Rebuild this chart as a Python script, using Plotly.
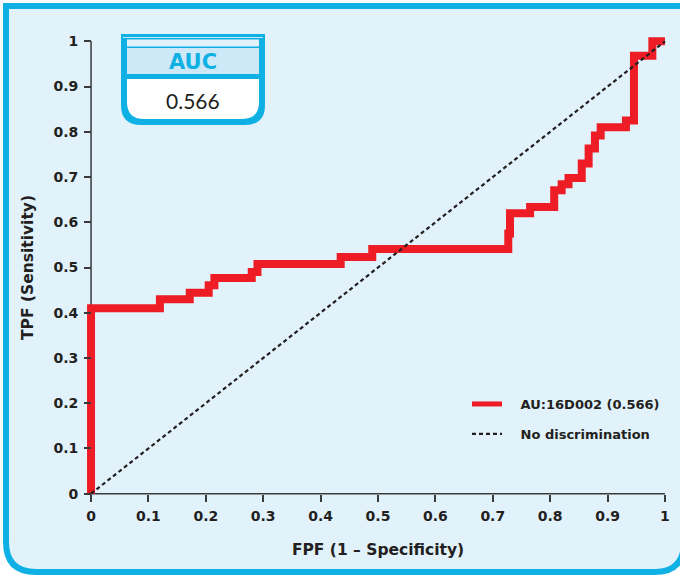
import plotly.graph_objects as go

# ---- data ----
fpf = [0, 0, 0.12, 0.172, 0.205, 0.215, 0.28, 0.29, 0.435, 0.49, 0.727, 0.73,
       0.765, 0.807, 0.82, 0.832, 0.855, 0.867, 0.878, 0.888, 0.932, 0.946, 0.978, 1.0]
tpf = [0, 0.41, 0.43, 0.444, 0.461, 0.477, 0.49, 0.508, 0.523, 0.541, 0.575, 0.62,
       0.634, 0.671, 0.684, 0.698, 0.73, 0.763, 0.792, 0.81, 0.825, 0.968, 1.0, 1.0]
diag_x = [0, 1]
diag_y = [0, 1]
series_name = "AU:16D002 (0.566)"
ref_name = "No discrimination"
auc_label = "AUC"
auc_value = "0.566"
tick_vals = [0, 0.1, 0.2, 0.3, 0.4, 0.5, 0.6, 0.7, 0.8, 0.9, 1]
tick_text = ["0", "0.1", "0.2", "0.3", "0.4", "0.5", "0.6", "0.7", "0.8", "0.9", "1"]

# ---- layout geometry ----
W, H = 680, 577
ML, MR, MT, MB = 83, 7, 35, 77
PW, PH = W - ML - MR, H - MT - MB
PAD = 0.014
RNG = [-PAD, 1 + PAD]


def px(x):
    return (x - ML) / PW


def py(y):
    return (H - MB - y) / PH


CYAN = "#0fb0e4"
BG = "#e1f2fb"
RED = "#ee1c25"
DARK = "#231f20"
FONT = "DejaVu Sans"
NB = "\u00a0"

fig = go.Figure()
fig.add_trace(go.Scatter(x=fpf, y=tpf, mode="lines", line_shape="hv",
                         line=dict(color=RED, width=8), name=series_name,
                         showlegend=False))
# legend entry for the curve (thinner legend stroke, as in the reference)
fig.add_trace(go.Scatter(x=[None], y=[None], mode="lines",
                         line=dict(color=RED, width=5), name=NB * 3 + series_name,
                         legend="legend", showlegend=True))
fig.add_trace(go.Scatter(x=diag_x, y=diag_y, mode="lines",
                         line=dict(color=DARK, width=2.2, dash="4px,3px"),
                         name=NB * 3 + ref_name, legend="legend2"))

shapes = []
# outer frame with rounded bottom corners
r = 30
x0, x1, y0, y1 = 6, 684, 6, 572
rx, ry = r / PW, r / PH
path = (f"M{px(x0)},{py(y0)} L{px(x1)},{py(y0)} L{px(x1)},{py(y1)+ry} "
        f"Q{px(x1)},{py(y1)} {px(x1)-rx},{py(y1)} "
        f"L{px(x0)+rx},{py(y1)} Q{px(x0)},{py(y1)} {px(x0)},{py(y1)+ry} Z")
shapes.append(dict(type="path", xref="paper", yref="paper", path=path,
                   fillcolor=BG, line=dict(color=CYAN, width=6), layer="below"))
# axis lines
shapes.append(dict(type="line", xref="x", yref="y", x0=0, y0=0, x1=1, y1=0,
                   line=dict(color="#3a3a3a", width=1.5), layer="below"))
shapes.append(dict(type="line", xref="x", yref="y", x0=0, y0=0, x1=0, y1=1,
                   line=dict(color="#3a3a3a", width=1.5), layer="below"))

# AUC box
bl, br, bt, bb, br_r = 121, 265, 34, 125, 20
outer = (f"M{px(bl)},{py(bt)} L{px(br)},{py(bt)} L{px(br)},{py(bb-br_r)} "
         f"Q{px(br)},{py(bb)} {px(br-br_r)},{py(bb)} L{px(bl+br_r)},{py(bb)} "
         f"Q{px(bl)},{py(bb)} {px(bl)},{py(bb-br_r)} Z")
shapes.append(dict(type="path", xref="paper", yref="paper", path=outer,
                   fillcolor=CYAN, line=dict(width=0), layer="above"))
il, ir, it, ib, ir_r = 127, 259, 79, 119, 17
inner = (f"M{px(il)},{py(it)} L{px(ir)},{py(it)} L{px(ir)},{py(ib-ir_r)} "
         f"Q{px(ir)},{py(ib)} {px(ir-ir_r)},{py(ib)} L{px(il+ir_r)},{py(ib)} "
         f"Q{px(il)},{py(ib)} {px(il)},{py(ib-ir_r)} Z")
shapes.append(dict(type="path", xref="paper", yref="paper", path=inner,
                   fillcolor="white", line=dict(width=0), layer="above"))
shapes.append(dict(type="rect", xref="paper", yref="paper",
                   x0=px(127), x1=px(259), y0=py(48), y1=py(74),
                   fillcolor="#cde8f6", line=dict(width=0), layer="above"))
shapes.append(dict(type="rect", xref="paper", yref="paper",
                   x0=px(127), x1=px(259), y0=py(39.5), y1=py(46.5),
                   fillcolor=BG, line=dict(width=0), layer="above"))
shapes.append(dict(type="line", xref="paper", yref="paper",
                   x0=px(123), x1=px(263), y0=py(37.5), y1=py(37.5),
                   line=dict(color="#bfe6f6", width=1), layer="above"))

annotations = [
    dict(text=f"<b>{auc_label}</b>", xref="paper", yref="paper", x=px(193), y=py(62),
         showarrow=False, font=dict(family=FONT, size=21, color=CYAN),
         xanchor="center", yanchor="middle"),
    dict(text=auc_value, xref="paper", yref="paper", x=px(193), y=py(100),
         showarrow=False, font=dict(family="Lato", size=21, color=DARK),
         xanchor="center", yanchor="middle"),
]

axis_common = dict(range=RNG, tickvals=tick_vals, ticktext=tick_text,
                   showgrid=False, zeroline=False, showline=False,
                   ticks="outside", ticklen=7, tickwidth=1.5, tickcolor="#3a3a3a",
                   ticklabelstandoff=3,
                   tickfont=dict(family=FONT, size=14, color=DARK, weight="bold"),
                   anchor="free", position=PAD / (1 + 2 * PAD))

fig.update_layout(
    width=W, height=H,
    margin=dict(l=ML, r=MR, t=MT, b=MB, autoexpand=False),
    paper_bgcolor="white", plot_bgcolor="rgba(0,0,0,0)",
    xaxis=dict(**axis_common,
               title=dict(text="FPF (1 – Specificity)", standoff=20,
                          font=dict(family=FONT, size=15.5, color=DARK, weight="bold"))),
    yaxis=dict(**axis_common,
               title=dict(text="TPF (Sensitivity)", standoff=14,
                          font=dict(family=FONT, size=15.5, color=DARK, weight="bold"))),
    shapes=shapes, annotations=annotations,
    legend=dict(x=px(467), y=py(404), xanchor="left", yanchor="middle",
                bgcolor="rgba(0,0,0,0)",
                font=dict(family=FONT, size=13, color=DARK, weight="bold")),
    legend2=dict(x=px(467), y=py(434), xanchor="left", yanchor="middle",
                 bgcolor="rgba(0,0,0,0)",
                 font=dict(family=FONT, size=13, color=DARK, weight="bold")),
)

fig.write_html("out.html", config={"displayModeBar": False},
               post_script="document.body.style.margin='0px';")
